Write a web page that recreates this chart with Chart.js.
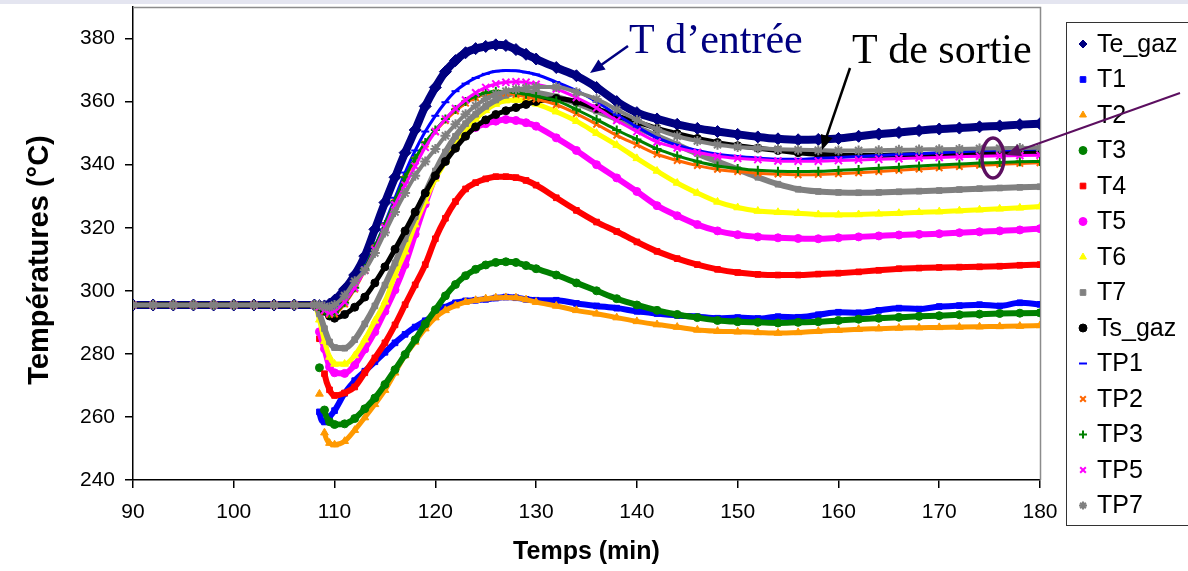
<!DOCTYPE html>
<html>
<head>
<meta charset="utf-8">
<script src="https://cdn.jsdelivr.net/npm/chart.js@4.4.0/dist/chart.umd.min.js"></script>
<style>
html, body { margin: 0; padding: 0; background: #fff; }
#wrap { width: 1188px; height: 571px; }
</style>
</head>
<body>
<div id="wrap"><canvas id="tempChart" width="1188" height="571"></canvas></div>
<script>
// temps (min)
var temps = [90, 92, 94, 96, 98, 100, 102, 104, 106, 108,
    108.5, 109, 109.5,
    110, 111, 112, 113, 114, 115, 116, 117, 118, 119, 120, 121, 122, 123, 124, 125, 126, 127, 128, 129, 130,
    132, 134, 136, 138, 140, 142, 144, 146, 148, 150, 152, 154, 156, 158, 160, 162, 164, 166, 168, 170, 172, 174, 176, 178, 180];

var teGaz = [295.5, 295.5, 295.5, 295.5, 295.5, 295.5, 295.5, 295.5, 295.5, 295.5,
    295.3, 295.2, 295.8,
    297, 300.5, 305, 311, 319.5, 328, 336, 343.8, 351, 358.5, 364.5, 369.5, 373, 375.5, 376.8, 377.5, 378, 377.8, 376.5, 375, 373.5,
    370.8, 368.2, 364.5, 360, 356.5, 354.5, 352.8, 351.5, 350.5, 349.6, 348.8, 348.2, 347.9, 348, 348.3, 349, 349.7, 350.2, 350.8, 351.3, 351.6, 352, 352.3, 352.7, 353];
var t1 = [295.5, 295.5, 295.5, 295.5, 295.5, 295.5, 295.5, 295.5, 295.5, 295.5,
    261.6, 258.4, 260,
    262, 267.5, 271.5, 274.5, 277.5, 280.5, 283.5, 286.2, 288.5, 290.5, 292.5, 294.8, 296.2, 296.8, 297, 297.3, 297.7, 298, 297.8, 297.3, 297,
    297, 296, 295.2, 294.5, 293.5, 292.8, 292.2, 291.8, 291.3, 291.5, 291.2, 291.8, 291.6, 292.4, 293.2, 293, 293.8, 294.5, 294.2, 295, 295.3, 295.6, 295.2, 296.2, 295.7];
var t2 = [295.5, 295.5, 295.5, 295.5, 295.5, 295.5, 295.5, 295.5, 295.5, 295.5,
    267.3, 255, 251.7,
    251.2, 252.3, 255.8, 259.8, 264, 268.5, 274, 279.5, 283.8, 288, 291.5, 293.8, 295.3, 296.4, 297, 297.5, 297.8, 297.9, 297.8, 297.2, 296.4,
    295.2, 293.8, 292.7, 291.5, 290.3, 289.3, 288.5, 287.6, 287.2, 287, 286.8, 286.6, 286.8, 287.2, 287.5, 287.8, 288, 288.2, 288.3, 288.4, 288.5, 288.6, 288.7, 288.8, 289];
var t3 = [295.5, 295.5, 295.5, 295.5, 295.5, 295.5, 295.5, 295.5, 295.5, 295.5,
    275.6, 262.2, 258.5,
    257.6, 257.8, 259.5, 262.6, 266, 270.3, 275, 279.8, 284.5, 289.5, 294, 298.4, 302, 304.8, 306.8, 308.2, 309, 309.2, 309, 308, 307,
    305, 302.5, 300, 297.5, 295.5, 293.8, 292.5, 291.5, 290.6, 290.2, 290, 289.8, 290, 290.2, 290.6, 291, 291.3, 291.6, 291.9, 292.1, 292.4, 292.6, 292.8, 292.9, 293];
var t4 = [295.5, 295.5, 295.5, 295.5, 295.5, 295.5, 295.5, 295.5, 295.5, 295.5,
    284.8, 273.7, 268.6,
    266.8, 267.6, 269.5, 274, 278.7, 283.5, 289.2, 295.6, 301.9, 308.3, 316.5, 323, 328.3, 332.3, 334.3, 335.5, 336.2, 336.2, 335.9, 335, 333.5,
    329.5, 325.5, 321.8, 318.8, 315.5, 312.5, 310.2, 308.3, 306.8, 305.8, 305.2, 305, 305, 305.3, 305.6, 306, 306.5, 307, 307.2, 307.4, 307.5, 307.6, 307.8, 308.1, 308.3];
var t5 = [295.5, 295.5, 295.5, 295.5, 295.5, 295.5, 295.5, 295.5, 295.5, 295.5,
    287, 281.6, 275.9,
    274, 273.8, 276.5, 281.5, 287, 293.5, 300.3, 308.3, 318, 327.5, 336.2, 342.5, 347, 350, 351.8, 353, 353.8, 354.3, 354, 353.3, 352.2,
    348.5, 344.5, 340, 335.8, 331.5, 327, 323.8, 321, 319, 317.8, 317.1, 316.8, 316.6, 316.5, 316.8, 317.1, 317.4, 317.7, 317.9, 318.1, 318.4, 318.7, 319, 319.3, 319.7];
var t6 = [295.5, 295.5, 295.5, 295.5, 295.5, 295.5, 295.5, 295.5, 295.5, 295.5,
    290.8, 284, 279,
    276.8, 276.8, 279.5, 284.5, 290.5, 296.5, 305, 312.4, 321, 328.5, 335.5, 341, 347, 351, 354.5, 357.2, 359.2, 360.3, 360.5, 360.2, 359.3,
    356.8, 353.8, 350, 346.2, 342, 338, 334.2, 331, 328.2, 326.4, 325.3, 324.9, 324.6, 324.2, 324.1, 324.2, 324.4, 324.6, 324.9, 325.1, 325.4, 325.7, 326, 326.3, 326.7];
var t7 = [295.5, 295.5, 295.5, 295.5, 295.5, 295.5, 295.5, 295.5, 295.5, 295.5,
    292.7, 288, 283.8,
    282, 281.8, 284.5, 289.5, 295.2, 301.8, 308.8, 316.5, 323.5, 331, 338, 344, 349, 353, 356, 358.5, 360.5, 362, 362.8, 363, 362.8,
    361.5, 359.5, 357, 354.5, 351.8, 349, 346.3, 343.5, 341, 338.5, 336, 333.8, 332.2, 331.5, 331.2, 331.1, 331.2, 331.4, 331.6, 331.8, 332.1, 332.4, 332.6, 332.8, 333];
var tsGaz = [295.5, 295.5, 295.5, 295.5, 295.5, 295.5, 295.5, 295.5, 295.5, 295.5,
    295, 293.5, 292,
    291.3, 292.5, 294.8, 298, 302.5, 307.6, 313.2, 319, 325, 331, 336.5, 341, 345.2, 349, 352, 354.2, 355.9, 357.1, 358.1, 359.1, 360,
    361, 360, 357.8, 355.5, 353.5, 351.5, 349.8, 348.3, 347, 346, 345.2, 344.5, 343.8, 343.3, 343.1, 343, 343, 343.1, 343.2, 343.3, 343.5, 343.6, 343.8, 343.9, 344];
var tp1 = [295.5, 295.5, 295.5, 295.5, 295.5, 295.5, 295.5, 295.5, 295.5, 295.5,
    295.3, 294.5, 294,
    294.5, 297.5, 302, 307.5, 314, 321.5, 329.5, 337.5, 344.5, 350.5, 355.5, 359.8, 363.3, 365.7, 367.5, 368.8, 369.6, 369.9, 369.8, 369.3, 368.6,
    366.2, 363.5, 360, 355.8, 352, 348.5, 346.2, 344.5, 343.3, 342.6, 342.1, 341.7, 341.7, 342, 342.3, 342.6, 342.9, 343.2, 343.5, 343.8, 344.1, 344.4, 344.6, 344.8, 345];
var tp2 = [295.5, 295.5, 295.5, 295.5, 295.5, 295.5, 295.5, 295.5, 295.5, 295.5,
    294.8, 293.5, 292.5,
    292.6, 295.8, 300.5, 306.5, 313.5, 320.5, 328, 335.5, 341.5, 346.5, 350.5, 354, 357, 359.5, 361.2, 362.3, 362.8, 362.7, 362.2, 361.5, 360.8,
    359, 356.2, 352.8, 349.3, 346.3, 343.3, 341.3, 339.7, 338.5, 337.8, 337.3, 337, 336.8, 336.9, 337.1, 337.4, 337.8, 338.2, 338.6, 339, 339.4, 339.8, 340.1, 340.4, 340.6];
var tp3 = [295.5, 295.5, 295.5, 295.5, 295.5, 295.5, 295.5, 295.5, 295.5, 295.5,
    295, 293.8, 292.8,
    293, 296.2, 301, 307, 314, 321, 328.5, 336, 342, 347, 351, 354.5, 357.5, 360, 361.7, 362.8, 363.3, 363.2, 362.8, 362.3, 361.7,
    360.3, 357.5, 354.3, 351, 348, 345, 342.8, 341, 339.6, 338.8, 338.2, 337.9, 337.8, 337.9, 338.2, 338.5, 338.9, 339.2, 339.6, 339.9, 340.2, 340.5, 340.7, 340.9, 341];
var tp5 = [295.5, 295.5, 295.5, 295.5, 295.5, 295.5, 295.5, 295.5, 295.5, 295.5,
    295, 293.8, 293,
    293.5, 296.5, 301, 306.5, 313, 320, 327.3, 333.5, 339.5, 345.5, 350.5, 354.5, 357.8, 360.5, 362.8, 364.5, 365.6, 366.1, 366.3, 366.1, 365.5,
    364, 361.3, 358, 354, 350.5, 347.2, 345.3, 343.9, 342.7, 342, 341.6, 341.2, 341.1, 341.1, 341.3, 341.5, 341.7, 341.9, 342.1, 342.3, 342.5, 342.7, 342.8, 342.9, 343];
var tp7 = [295.5, 295.5, 295.5, 295.5, 295.5, 295.5, 295.5, 295.5, 295.5, 295.5,
    295.5, 295, 294.8,
    295.5, 298.5, 303, 306.5, 312, 318.5, 325, 331, 336.5, 341, 345, 349.2, 352.8, 356, 358.7, 360.8, 362.3, 363.3, 363.9, 364.3, 364.6,
    364.6, 363, 360.8, 357.5, 354.2, 351.2, 349, 347.5, 346.3, 345.6, 345.2, 344.9, 344.7, 344.6, 344.5, 344.5, 344.6, 344.7, 344.8, 344.9, 345, 345.1, 345.2, 345.3, 345.4];

var seriesNames = ['Te_gaz', 'T1', 'T2', 'T3', 'T4', 'T5', 'T6', 'T7', 'Ts_gaz', 'TP1', 'TP2', 'TP3', 'TP5', 'TP7'];
var seriesData = [teGaz, t1, t2, t3, t4, t5, t6, t7, tsGaz, tp1, tp2, tp3, tp5, tp7];

// style of each series (same order)
var styles = [
    { color: '#000080', point: 'rectRot', r: 6, bw: 8 },
    { color: '#0000ff', point: 'rect', r: 4, bw: 6 },
    { color: '#ff9900', point: 'triangle', r: 4.5, bw: 5 },
    { color: '#008000', point: 'circle', r: 4, bw: 6 },
    { color: '#ff0000', point: 'rect', r: 4, bw: 6 },
    { color: '#ff00ff', point: 'circle', r: 4, bw: 6 },
    { color: '#ffff00', point: 'triangle', r: 4.5, bw: 5 },
    { color: '#808080', point: 'rect', r: 4, bw: 6 },
    { color: '#000000', point: 'circle', r: 4, bw: 5 },
    { color: '#0000ff', point: 'line', r: 4, bw: 3 },
    { color: '#ff6600', point: 'crossRot', r: 4.5, bw: 3 },
    { color: '#008000', point: 'cross', r: 4.5, bw: 3 },
    { color: '#ff00ff', point: 'crossRot', r: 5, bw: 3 },
    { color: '#808080', point: 'star', r: 5, bw: 4 }
];

var datasets = seriesNames.map(function (name, i) {
    var st = styles[i];
    return {
        label: name,
        data: seriesData[i],
        borderColor: st.color,
        backgroundColor: st.color,
        borderWidth: st.bw,
        pointStyle: st.point,
        pointRadius: st.r,
        pointBorderWidth: (st.point.indexOf('cross') === 0 || st.point === 'star' || st.point === 'line') ? 2 : 1,
        pointBorderColor: st.color,
        pointBackgroundColor: st.color,
        cubicInterpolationMode: 'monotone',
        order: seriesNames.length - i,
        segment: {
            // no line across the sudden drop at the start of the transient
            borderColor: function (ctx) {
                return (ctx.p0.parsed.y - ctx.p1.parsed.y > 8) ? 'rgba(0,0,0,0)' : st.color;
            }
        }
    };
});

function drawArrow(ctx, x1, y1, x2, y2, color, width, head) {
    var a = Math.atan2(y2 - y1, x2 - x1);
    ctx.strokeStyle = color;
    ctx.fillStyle = color;
    ctx.lineWidth = width;
    ctx.beginPath();
    ctx.moveTo(x1, y1);
    ctx.lineTo(x2 - Math.cos(a) * head * 0.8, y2 - Math.sin(a) * head * 0.8);
    ctx.stroke();
    ctx.beginPath();
    ctx.moveTo(x2, y2);
    ctx.lineTo(x2 - head * Math.cos(a - 0.4), y2 - head * Math.sin(a - 0.4));
    ctx.lineTo(x2 - head * Math.cos(a + 0.4), y2 - head * Math.sin(a + 0.4));
    ctx.closePath();
    ctx.fill();
}

var framePlugin = {
    id: 'frame',
    beforeDraw: function (chart) {
        var ctx = chart.ctx;
        ctx.save();
        ctx.fillStyle = '#e4e5f0';
        ctx.fillRect(0, 0, chart.width, 4);
        ctx.restore();
    },
    beforeDatasetsDraw: function (chart) {
        var ctx = chart.ctx, a = chart.chartArea;
        ctx.save();
        ctx.strokeStyle = '#8c8c8c';
        ctx.lineWidth = 1.5;
        ctx.beginPath();
        ctx.moveTo(a.left, a.top + 0.5);
        ctx.lineTo(a.right + 0.5, a.top + 0.5);
        ctx.lineTo(a.right + 0.5, a.bottom);
        ctx.stroke();
        ctx.restore();
    },
    afterDraw: function (chart) {
        var ctx = chart.ctx;
        ctx.save();

        // y axis title (placed a bit below the plot centre, as in the original)
        ctx.save();
        ctx.translate(40, 260);
        ctx.rotate(-Math.PI / 2);
        ctx.font = 'bold 29px "Liberation Sans", Arial, sans-serif';
        ctx.fillStyle = '#000';
        ctx.textAlign = 'center';
        ctx.textBaseline = 'middle';
        ctx.fillText('Températures (°C)', 0, 0);
        ctx.restore();

        // legend box
        ctx.strokeStyle = '#333';
        ctx.lineWidth = 1;
        ctx.strokeRect(1066.5, 22.5, 140, 503);
        ctx.font = '25px "Liberation Sans", Arial, sans-serif';
        ctx.textBaseline = 'middle';
        ctx.textAlign = 'left';
        chart.data.datasets.forEach(function (ds, i) {
            var y = 44 + i * 35.5;
            ctx.fillStyle = ds.pointBackgroundColor;
            ctx.strokeStyle = ds.pointBorderColor;
            ctx.lineWidth = ds.pointBorderWidth;
            Chart.helpers.drawPoint(ctx, { pointStyle: ds.pointStyle, radius: 4, rotation: 0, borderWidth: ds.pointBorderWidth }, 1083, y);
            ctx.fillStyle = '#000';
            ctx.fillText(ds.label, 1097, y + 1);
        });

        // annotations
        ctx.textBaseline = 'alphabetic';
        ctx.font = '42px "Liberation Serif", "Times New Roman", serif';
        ctx.fillStyle = '#000080';
        ctx.fillText('T d\u2019entrée', 629, 53);
        drawArrow(ctx, 628, 46, 590, 73, '#000080', 2.5, 16);

        ctx.fillStyle = '#000';
        ctx.fillText('T de sortie', 852, 63);
        drawArrow(ctx, 850, 68, 822, 150, '#000', 2.5, 16);

        ctx.strokeStyle = '#5c0f60';
        ctx.lineWidth = 3.5;
        ctx.beginPath();
        ctx.ellipse(993, 158, 11, 20, 0, 0, Math.PI * 2);
        ctx.stroke();
        drawArrow(ctx, 1180, 93, 1006, 155, '#5c0f60', 2, 16);

        ctx.restore();
    }
};

var tickFont = { family: '"Liberation Sans", Arial, sans-serif', size: 21 };

new Chart(document.getElementById('tempChart').getContext('2d'), {
    type: 'line',
    data: { labels: temps, datasets: datasets },
    options: {
        responsive: false,
        animation: false,
        layout: { padding: { left: 18, right: 148, top: 7, bottom: 0 } },
        plugins: { legend: { display: false }, tooltip: { enabled: false } },
        scales: {
            x: {
                type: 'linear',
                min: 90, max: 180,
                ticks: { stepSize: 10, color: '#000', font: tickFont, padding: 12, maxRotation: 0 },
                grid: { display: true, drawOnChartArea: false, drawTicks: true, tickLength: 8, color: '#000', lineWidth: 1.5 },
                border: { display: true, color: '#000', width: 1.5 },
                title: { display: true, text: 'Temps (min)', color: '#000',
                    font: { family: '"Liberation Sans", Arial, sans-serif', size: 25, weight: 'bold' }, padding: { top: 4, bottom: 4 } },
                afterFit: function (scale) {
                    scale.height = 571 - 480;
                    scale.paddingLeft = 0;
                    scale.paddingRight = 0;
                }
            },
            y: {
                min: 240, max: 390,
                ticks: { stepSize: 20, color: '#000', font: tickFont, padding: 10 },
                afterBuildTicks: function (scale) {
                    scale.ticks = scale.ticks.filter(function (t) { return t.value % 20 === 0; });
                },
                grid: { display: true, drawOnChartArea: false, drawTicks: true, tickLength: 8, color: '#000', lineWidth: 1.5 },
                border: { display: true, color: '#000', width: 1.5 },
                afterFit: function (scale) {
                    scale.width = 133 - 18;
                    scale.paddingTop = 0;
                    scale.paddingBottom = 0;
                }
            }
        }
    },
    plugins: [framePlugin]
});
</script>
</body>
</html>
